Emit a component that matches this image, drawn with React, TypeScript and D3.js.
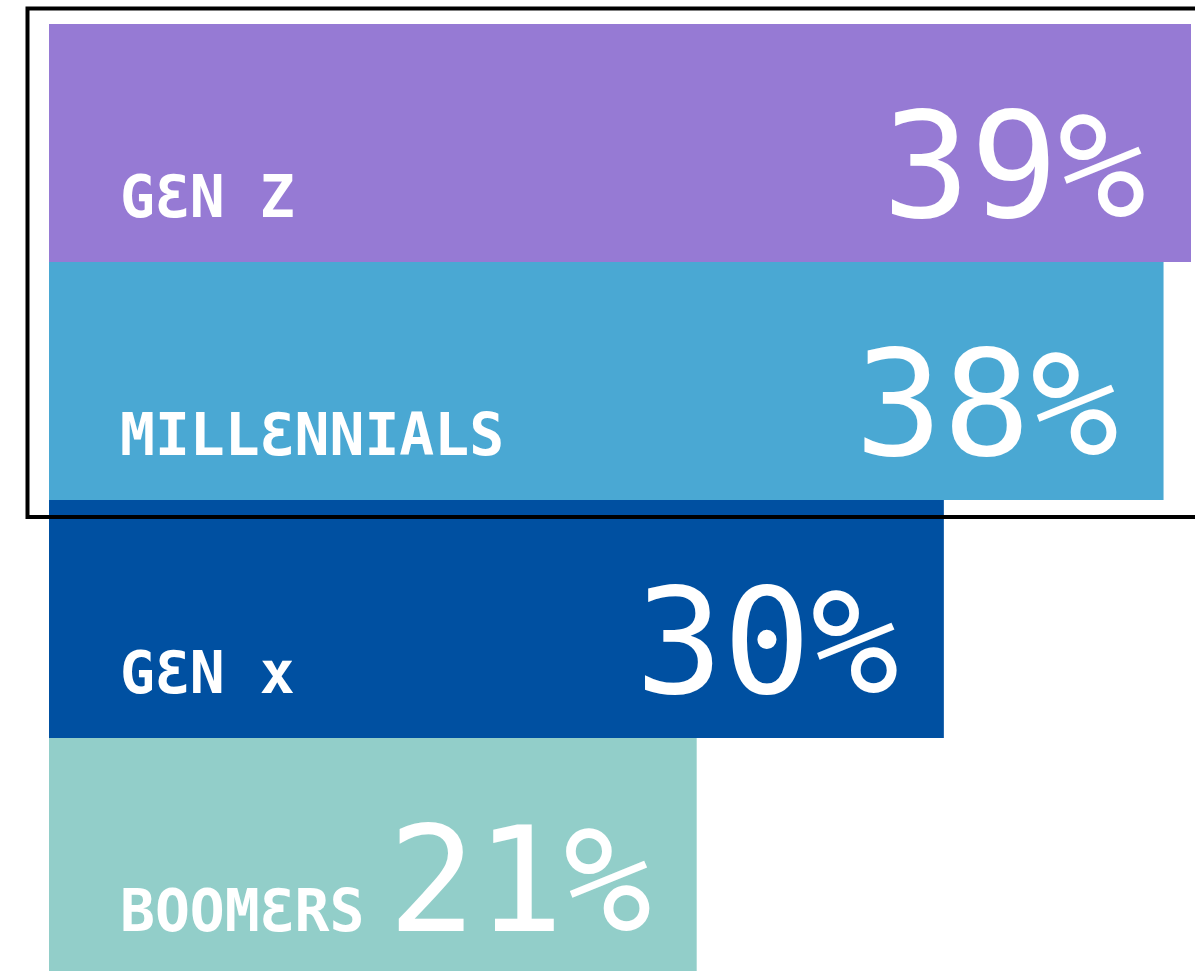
import React from "react";
import * as d3 from "d3";

const categories = ["GƐN Z", "MILLƐNNIALS", "GƐN x", "BOOMƐRS"];
const values = [39, 38, 30, 21];
const colors = ["#967ad4", "#4aa8d3", "#0050a1", "#92cec9"];

const W = 1195;
const H = 971;

export default function App() {
  const x = d3.scaleLinear().domain([0, 39]).range([120, 1191]);
  const y = d3.scaleBand<number>().domain(d3.range(categories.length)).range([24, 24 + 238 * 4]).padding(0);
  const barLeft = 49;
  return (
    <svg width={W} height={H} style={{ position: "absolute", left: 0, top: 0 }}>
      {values.map((v, i) => {
        const y0 = y(i)!;
        const bw = y.bandwidth();
        const xe = x(v);
        return (
          <g key={i}>
            <rect x={barLeft} y={y0} width={xe - barLeft} height={bw} fill={colors[i]} />
            <text
              x={x(0)}
              y={y0 + bw - 45}
              fill="#fff"
              fontFamily="'DejaVu Sans Mono', monospace"
              fontWeight="bold"
              fontSize={58}
            >
              {categories[i]}
            </text>
            <text
              x={xe - 45}
              y={y0 + bw - 45}
              fill="#fff"
              textAnchor="end"
              fontFamily="'DejaVu Sans Mono', monospace"
              fontSize={146}
            >
              {v}%
            </text>
          </g>
        );
      })}
      <rect x={27.5} y={8.5} width={1200} height={508.5} fill="none" stroke="#000" strokeWidth={4} />
    </svg>
  );
}
